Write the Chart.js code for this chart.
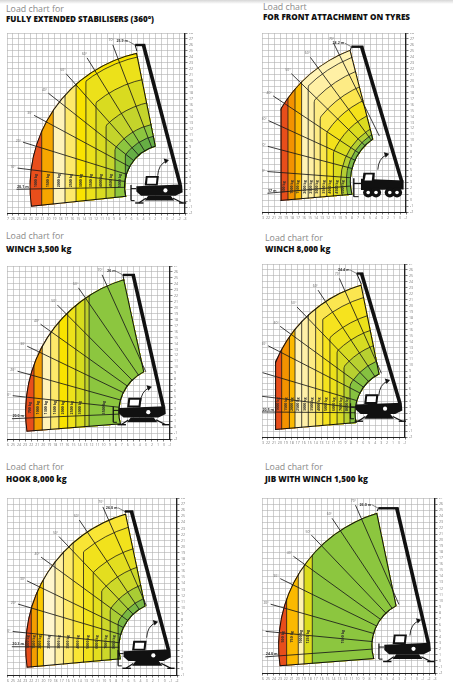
<!DOCTYPE html>
<html><head><meta charset="utf-8">
<script src="https://cdn.jsdelivr.net/npm/chart.js@4.4.1/dist/chart.umd.min.js"></script>
<style>
html,body{margin:0;padding:0;background:#fff;width:453px;height:696px;overflow:hidden;font-family:'Open Sans',sans-serif;position:relative}
.t1{position:absolute;font-size:8.8px;color:#8a8a8a;line-height:1;white-space:nowrap}
.t2{position:absolute;font-size:8.1px;font-weight:800;color:#111;line-height:1;white-space:nowrap}
canvas{position:absolute}
.topbar{position:absolute;left:0;top:0;width:453px;height:4px;background:linear-gradient(#d6d6d6,#fff)}
</style></head>
<body>
<div class="topbar"></div>
<div class="t1" style="left:6px;top:5px">Load chart for</div>
<div class="t2" style="left:6px;top:15px">FULLY EXTENDED STABILISERS (360°)</div>
<div class="t1" style="left:263px;top:3px">Load chart</div>
<div class="t2" style="left:263px;top:13px">FOR FRONT ATTACHMENT ON TYRES</div>
<div class="t1" style="left:6px;top:232px">Load chart for</div>
<div class="t2" style="left:6px;top:245px">WINCH 3,500 kg</div>
<div class="t1" style="left:265px;top:234px">Load chart for</div>
<div class="t2" style="left:265px;top:245px">WINCH 8,000 kg</div>
<div class="t1" style="left:6px;top:463px">Load chart for</div>
<div class="t2" style="left:6px;top:475px">HOOK 8,000 kg</div>
<div class="t1" style="left:265px;top:463px">Load chart for</div>
<div class="t2" style="left:265px;top:475px">JIB WITH WINCH 1,500 kg</div>
<script>
// ---------- Panel 1 : fully extended stabilisers ----------
const p1Loads   = ['1000 kg','1500 kg','2000 kg','2500 kg','3000 kg','3500 kg','4000 kg','4500 kg','5000 kg'];
const p1CurveX  = [5.85, 7.8, 9.78, 11.64, 13.3, 15.0, 16.7, 18.2, 19.95];
const p1CurveR  = [99, 99, 99, 99, 22.4, 18.5, 14.5, 10.8, 8.8];
const p1Rays    = [181, 173, 163, 152, 142, 132, 122, 111];
const p1RayText = ['20.1 m','10°','20°','30°','40°','50°','60°','70°'];
const p1Outline = [26.9, 4.4, 23.1, 7.0, 102.5, 188.5, 105, 194, 0];
const p1Boom    = [29.2, 4.67, 23.0, 28.0, 21.6];
const p1Tip     = '25.9 m';
// ---------- Panel 2 : front attachment on tyres ----------
const p2Loads   = ['500 kg','1000 kg','1500 kg','2000 kg','2500 kg','3000 kg','3500 kg','4000 kg','4500 kg','5000 kg'];
const p2CurveX  = [4.33, 5.5, 6.6, 7.7, 8.7, 9.7, 10.8, 11.9, 13.0, 14.1];
const p2CurveR  = [99, 99, 99, 22.3, 19.9, 17.3, 14.95, 12.4, 10.2, 9.3];
const p2Rays    = [185, 175.7, 165.2, 155.3, 146.2, 135.5, 126.2, 116.1];
const p2RayText = ['17 m','10°','20°','30°','40°','50°','60°','70°'];
const p2Outline = [23.3, 5.1, 23.6, 8.5, 111.3, 188.5, 124, 195, 3.1];
const p2Boom    = [23.3, 5.07, 16.6, 27.7, 14.9];
const p2Tip     = '24.2 m';
// ---------- Panel 3 : winch 3,500 kg ----------
const p3Loads   = ['700 kg','1000 kg','1300 kg','1600 kg','2000 kg','2500 kg','3000 kg',null,'3500 kg'];
const p3CurveX  = [4.47, 5.84, 7.23, 8.6, 10.05, 11.4, 12.9, 13.6];
const p3CurveR  = [99, 99, 99, 99, 99, 99, 99, 99];
const p3Rays    = [182.5, 173.7, 164.2, 154, 144.2, 134.5, 124.2, 114];
const p3RayText = ['20.0 m','10°','20°','30°','40°','50°','60°','70°'];
const p3Outline = [26, 4.5, 23.0, 7.4, 106.7, 188.1, 116.2, 195.8, 0];
const p3Boom    = [25.9, 5.4, 20.9, 27.5, 19.2];
const p3Tip     = '26 m';
// ---------- Panel 4 : winch 8,000 kg ----------
const p4Loads   = ['1000 kg','1500 kg','2000 kg','2500 kg','3000 kg','3500 kg','4000 kg','5000 kg','6000 kg','7000 kg','8000 kg'];
const p4CurveX  = [3.3, 4.6, 5.54, 6.66, 7.77, 9.0, 10.2, 11.4, 12.6, 13.76, 14.77];
const p4CurveR  = [99, 99, 99, 99, 99, 99, 20.3, 17.2, 14.7, 12.1, 9.5];
const p4Rays    = [179.5, 173, 163.5, 152.8, 143.9, 133.9, 123.4, 113.9];
const p4RayText = ['20.5 m','10°','20°','30°','40°','50°','60°','70°'];
const p4Outline = [23, 4, 22.5, 7.3, 106.3, 187.5, 116.6, 193, 2.2];
const p4Boom    = [23.15, 5.65, 16.7, 27.4, 15.9];
const p4Tip     = '24.4 m';
// ---------- Panel 5 : hook 8,000 kg ----------
const p5Loads   = ['1000 kg','1500 kg','2000 kg','2500 kg','3000 kg','3500 kg','4000 kg','5000 kg','6000 kg','7000 kg','8000 kg'];
const p5CurveX  = [4.0, 5.0, 6.0, 7.91, 9.3, 10.9, 12.6, 14.2, 15.6, 17.0, 18.3];
const p5CurveR  = [99, 99, 99, 99, 99, 99, 20.7, 17.1, 14.0, 11.0, 8.8];
const p5Rays    = [179.7, 174, 163.6, 154.3, 144, 133.8, 124, 113.9];
const p5RayText = ['20.3 m','10°','20°','30°','40°','50°','60°','70°'];
const p5Outline = [26, 4.5, 23.0, 7.5, 106.2, 188.3, 115.1, 194.8, 0];
const p5Boom    = [26.6, 4.1, 20.5, 26.8, 19.4];
const p5Tip     = '26.0 m';
// ---------- Panel 6 : jib with winch 1,500 kg ----------
const p6Loads   = ['500 kg','750 kg','1000 kg','1250 kg','1500 kg'];
const p6CurveX  = [4.13, 6.08, 7.04, 8.43];
const p6CurveR  = [99, 99, 99, 99];
const p6Rays    = [184.1, 174.6, 164.3, 154.1, 144.4, 134, 124, 113.9];
const p6RayText = ['24.0 m','10°','20°','30°','40°','50°','60°','70°'];
const p6Outline = [26, 4.5, 23.3, 7.5, 106.7, 188.4, 117.3, 197, 0];
const p6Boom    = [27.9, 4.9, 22.6, 27.3, 19.5];
const p6Tip     = '26.0 m';

// ---------- styles ----------
const p1Colors = ['#e84e1b','#f6a600','#fff3b8','#fde96a','#f9e300','#ece11a','#d9db20','#c4d42b','#8dc63f','#66ae44'];
const p2Colors = ['#e84e1b','#f39200','#fbb900','#fff3b5','#fff0a5','#fdeb85','#fbe64e','#f4e21a','#dcdc1f','#b5cf32','#7cb842'];
const p3Colors = ['#e84e1b','#f39c00','#fff3b8','#fde96a','#f9e300','#eee21a','#d6dc1e','#bfd22c','#8cc63f'];
const p4Colors = ['#e84e1b','#f39200','#fbb900','#fff3b8','#fff0a8','#fdeb85','#fbe650','#f6e31e','#ece01a','#d7db22','#b8d030','#86c240'];
const p5Colors = ['#e84e1b','#f39c00','#fbc900','#fff6cc','#fff0a0','#fde96a','#f9e535','#f1e21c','#e3de1f','#cdd829','#a9cc34','#7ab843'];
const p6Colors = ['#e84e1b','#fbb900','#fff3b0','#dcdc1c','#8cc63f'];

const PANELS = [
  {W:30,H:30,left:7,  top:33, gw:178,gh:180,loads:p1Loads,colors:p1Colors,curveX:p1CurveX,curveR:p1CurveR,rays:p1Rays,rayText:p1RayText,outline:p1Outline,boom:p1Boom,tip:p1Tip,labelY:5.4,arrow:[-0.8,3.1],tyres:false,ground:2},
  {W:24,H:30,left:262,top:33, gw:144,gh:179,loads:p2Loads,colors:p2Colors,curveX:p2CurveX,curveR:p2CurveR,rays:p2Rays,rayText:p2RayText,outline:p2Outline,boom:p2Boom,tip:p2Tip,labelY:4.2,arrow:[-3.3,3.3],tyres:true,ground:2},
  {W:27,H:29,left:7,  top:266,gw:163,gh:173,loads:p3Loads,colors:p3Colors,curveX:p3CurveX,curveR:p3CurveR,rays:p3Rays,rayText:p3RayText,outline:p3Outline,boom:p3Boom,tip:p3Tip,labelY:5.25,arrow:[-3.2,2.9],tyres:false,ground:2},
  {W:24,H:29,left:262,top:264,gw:143,gh:173,loads:p4Loads,colors:p4Colors,curveX:p4CurveX,curveR:p4CurveR,rays:p4Rays,rayText:p4RayText,outline:p4Outline,boom:p4Boom,tip:p4Tip,labelY:5.5,arrow:[-2.7,4.2],tyres:false,ground:2},
  {W:28,H:29,left:7,  top:498,gw:170,gh:177,loads:p5Loads,colors:p5Colors,curveX:p5CurveX,curveR:p5CurveR,rays:p5Rays,rayText:p5RayText,outline:p5Outline,boom:p5Boom,tip:p5Tip,labelY:5.4,arrow:[-2.3,2.9],tyres:false,ground:1},
  {W:29,H:29,left:262,top:498,gw:173,gh:175,loads:p6Loads,colors:p6Colors,curveX:p6CurveX,curveR:p6CurveR,rays:p6Rays,rayText:p6RayText,outline:p6Outline,boom:p6Boom,tip:p6Tip,labelY:6.0,arrow:[-0.5,3.0],tyres:false,ground:2}
];

const D = Math.PI / 180;
function geo(chart, P) {
  const xs = chart.scales.x, ys = chart.scales.y;
  return {
    X: v => xs.getPixelForValue(v), Y: v => ys.getPixelForValue(v),
    kx: xs.getPixelForValue(1) - xs.getPixelForValue(0),
    ky: ys.getPixelForValue(0) - ys.getPixelForValue(1),
    cx: xs.getPixelForValue(P.outline[0]), cy: ys.getPixelForValue(P.outline[1])
  };
}
function envelopePath(ctx, g, o) {
  ctx.beginPath();
  ctx.arc(g.cx, g.cy, o[2] * g.kx, -o[4] * D, -o[5] * D, true);
  ctx.arc(g.cx, g.cy, o[3] * g.kx, -o[7] * D, -o[6] * D, false);
  ctx.closePath();
}
function rayEnd(o, th) {
  let r = o[2];
  const c = Math.cos(th * D);
  if (c < 0 && o[8] > 0) r = Math.min(r, (o[0] - o[8]) / -c);
  return r;
}
function seg(data, color, w) {
  return {type:'scatter', data, showLine:true, borderColor:color, backgroundColor:color,
          borderWidth:w, pointRadius:0, clip:false, borderCapStyle:'butt'};
}
function drawMachine(ctx, g, P) {
  const b = P.boom, bx = g.X(b[0]), by = g.Y(b[1]);
  const U = (dx, dy) => [bx + dx * g.kx, by - dy * g.ky];
  const poly = (pts, fill) => {
    ctx.beginPath();
    pts.forEach((p, i) => { const q = U(p[0], p[1]); i ? ctx.lineTo(q[0], q[1]) : ctx.moveTo(q[0], q[1]); });
    ctx.closePath(); ctx.fillStyle = fill; ctx.fill();
  };
  const ln = (a, c, w) => { const p = U(a[0], a[1]), q = U(c[0], c[1]); ctx.lineWidth = w; ctx.beginPath(); ctx.moveTo(p[0], p[1]); ctx.lineTo(q[0], q[1]); ctx.stroke(); };
  ctx.strokeStyle = '#111';
  if (P.tyres) {
    poly([[-6.8,0.5],[0.3,0.2],[0.3,-1.3],[-6.8,-1.4]], '#111');
    poly([[-6.6,-0.2],[-4.6,-0.2],[-4.5,1.5],[-6.4,1.5]], '#111');
    poly([[-6.2,0.2],[-5.0,0.2],[-4.9,1.2],[-6.0,1.2]], '#fff');
    [-5.6,-4.3,-2.0,-0.8].forEach(x => {
      const c = U(x, -1.8);
      ctx.beginPath(); ctx.arc(c[0], c[1], 0.85 * g.kx, 0, 2 * Math.PI); ctx.fillStyle = '#111'; ctx.fill();
      ctx.beginPath(); ctx.arc(c[0], c[1], 0.3 * g.kx, 0, 2 * Math.PI); ctx.fillStyle = '#fff'; ctx.fill();
    });
    ln([-6.8,-0.3],[-8.0,-0.3],1.2); ln([-8.0,0.6],[-8.0,-2.5],1.4); ln([-8.0,-2.5],[-7.2,-2.5],1);
  } else {
    poly([[-7.4,-0.2],[0.3,0.1],[0.4,-1.2],[-0.8,-1.8],[-6.6,-1.8],[-7.4,-1.1]], '#111');
    poly([[-6.0,-0.1],[-3.8,-0.1],[-3.6,1.5],[-5.8,1.5]], '#111');
    poly([[-5.6,0.2],[-4.1,0.2],[-4.0,1.2],[-5.5,1.2]], '#fff');
    const h = U(-2.5, -0.9); ctx.beginPath(); ctx.arc(h[0], h[1], 0.35 * g.kx, 0, 2 * Math.PI); ctx.fillStyle = '#fff'; ctx.fill();
    poly([[-5.4,-1.8],[-1.6,-1.8],[-1.0,-2.6],[-6.0,-2.6]], '#111');
    ln([-5.8,-2.2],[-7.0,-3.0],1.2); ln([-1.2,-2.2],[0.4,-3.0],1.2);
    ln([-7.6,-3.0],[-6.2,-3.0],1.4); ln([-0.2,-3.0],[1.0,-3.0],1.4);
    ln([-7.4,-0.6],[-8.3,-0.6],1); ln([-8.3,0.0],[-8.3,-2.6],1.3); ln([-8.3,-2.6],[-7.7,-2.6],1);
  }
}
function drawArrow(ctx, g, P) {
  const o = P.outline, a = P.arrow, k = g.kx;
  const cx = g.X(o[0] + a[0]), cy = g.Y(o[1] + a[1]);
  ctx.strokeStyle = '#111'; ctx.lineWidth = 0.9;
  ctx.beginPath(); ctx.moveTo(cx - 0.7 * k, cy + 1.3 * k);
  ctx.quadraticCurveTo(cx - 0.6 * k, cy - 0.6 * k, cx + 0.8 * k, cy - 1.2 * k); ctx.stroke();
  ctx.beginPath(); ctx.moveTo(cx + 1.2 * k, cy - 1.35 * k); ctx.lineTo(cx + 0.3 * k, cy - 1.6 * k);
  ctx.lineTo(cx + 0.6 * k, cy - 0.7 * k); ctx.closePath(); ctx.fillStyle = '#111'; ctx.fill();
}

function makePlugin(P) {
  return {
    id: 'loadzones',
    beforeDatasetsDraw(chart) {
      const ctx = chart.ctx, g = geo(chart, P), o = P.outline, a = chart.chartArea;
      ctx.save();
      ctx.beginPath(); ctx.rect(a.left, a.top, a.width, a.height); ctx.clip();
      envelopePath(ctx, g, o); ctx.clip();
      ctx.beginPath(); ctx.rect(g.X(o[8]), -2000, 4000, 4000); ctx.clip();
      ctx.fillStyle = P.colors[0]; ctx.fillRect(a.left, a.top, a.width, a.height);
      P.curveX.forEach((x, i) => {
        ctx.save();
        ctx.beginPath(); ctx.rect(g.X(x), -2000, 4000, 4000); ctx.clip();
        ctx.beginPath(); ctx.arc(g.cx, g.cy, P.curveR[i] * g.kx, 0, 2 * Math.PI);
        ctx.fillStyle = P.colors[i + 1]; ctx.fill();
        ctx.restore();
      });
      ctx.strokeStyle = '#1a1a1a'; ctx.lineWidth = 0.8;
      P.curveX.forEach((x, i) => {
        const px = g.X(x), r = P.curveR[i] * g.kx;
        ctx.save(); ctx.beginPath(); ctx.arc(g.cx, g.cy, r, 0, 2 * Math.PI); ctx.clip();
        ctx.beginPath(); ctx.moveTo(px, -2000); ctx.lineTo(px, 2000); ctx.stroke(); ctx.restore();
        ctx.save(); ctx.beginPath(); ctx.rect(px, -2000, 4000, 4000); ctx.clip();
        ctx.beginPath(); ctx.arc(g.cx, g.cy, r, 0, 2 * Math.PI); ctx.stroke(); ctx.restore();
      });
      ctx.strokeStyle = '#111'; ctx.lineWidth = 2;
      envelopePath(ctx, g, o); ctx.stroke();
      ctx.beginPath(); ctx.moveTo(g.X(o[8]), -2000); ctx.lineTo(g.X(o[8]), 2000); ctx.stroke();
      ctx.restore();
    },
    afterDatasetsDraw(chart) {
      const ctx = chart.ctx, g = geo(chart, P), o = P.outline;
      ctx.save();
      ctx.fillStyle = '#2e2e2e'; ctx.font = 'bold 3.6px "Open Sans"';
      ctx.textAlign = 'center'; ctx.textBaseline = 'middle';
      const ly = P.labelY, dy = ly - o[1];
      P.loads.forEach((t, i) => {
        if (!t) return;
        const l = i === 0 ? Math.max(o[8], o[0] - Math.sqrt(o[2] * o[2] - dy * dy)) : P.curveX[i - 1];
        const r = i < P.curveX.length ? P.curveX[i] : o[0] - Math.sqrt(Math.max(0, o[3] * o[3] - dy * dy));
        ctx.save(); ctx.translate(g.X((l + r) / 2), g.Y(ly)); ctx.rotate(-Math.PI / 2);
        ctx.fillText(t, 0, 0); ctx.restore();
      });
      P.rays.forEach((th, i) => {
        const c = Math.cos(th * D), s = Math.sin(th * D), r1 = rayEnd(o, th) + 2.2;
        const ex = o[0] + r1 * c, ey = o[1] + r1 * s;
        if (i === 0) {
          ctx.font = 'bold 3.6px "Open Sans"'; ctx.fillStyle = '#333'; ctx.textAlign = 'left'; ctx.textBaseline = 'bottom';
          ctx.fillText(P.rayText[i], g.X(ex) + 0.5, g.Y(ey) - 0.6);
        } else {
          ctx.font = '3.4px "Open Sans"'; ctx.fillStyle = '#666'; ctx.textAlign = 'center'; ctx.textBaseline = 'middle';
          ctx.fillText(P.rayText[i], g.X(ex + 0.8 * c), g.Y(ey + 0.8 * s));
        }
      });
      const b = P.boom;
      ctx.font = 'bold 3.6px "Open Sans"'; ctx.fillStyle = '#333'; ctx.textAlign = 'right'; ctx.textBaseline = 'middle';
      const tx = g.X(b[4] - 1.2), ty = g.Y(b[3] + 0.6);
      ctx.fillText(P.tip, tx, ty);
      ctx.strokeStyle = '#333'; ctx.lineWidth = 0.6;
      ctx.beginPath(); ctx.moveTo(tx + 0.5, ty); ctx.lineTo(g.X(b[4]), g.Y(b[3])); ctx.stroke();
      drawMachine(ctx, g, P);
      drawArrow(ctx, g, P);
      ctx.restore();
    }
  };
}

function build(P) {
  const cv = document.createElement('canvas');
  const w = P.gw + 12, h = P.gh + 12;
  cv.width = w; cv.height = h;
  cv.style.left = P.left + 'px'; cv.style.top = P.top + 'px';
  cv.style.width = w + 'px'; cv.style.height = h + 'px';
  document.body.appendChild(cv);
  const o = P.outline, b = P.boom;
  const datasets = P.rays.map(th => {
    const c = Math.cos(th * D), s = Math.sin(th * D), r1 = rayEnd(o, th) + 2.2;
    return seg([{x: o[0] + o[3] * c, y: o[1] + o[3] * s}, {x: o[0] + r1 * c, y: o[1] + r1 * s}], '#1a1a1a', 0.85);
  });
  const tipX = o[0] + o[2] * Math.cos(o[4] * D), tipY = o[1] + o[2] * Math.sin(o[4] * D);
  datasets.push(seg([{x: b[4], y: b[3]}, {x: tipX, y: tipY}], '#111', 1));
  datasets.push(seg([{x: b[0], y: b[1]}, {x: b[2], y: b[3]}], '#111', 3.6));
  datasets.push(seg([{x: b[4], y: b[3]}, {x: b[2] + 0.3, y: b[3]}], '#111', 2.4));
  const x0 = Math.round(o[0]);
  new Chart(cv, {
    type: 'scatter',
    data: {datasets},
    options: {
      responsive: false, animation: false, maintainAspectRatio: false,
      layout: {padding: 0},
      plugins: {legend: {display: false}, tooltip: {enabled: false}, title: {display: false}},
      scales: {
        x: {
          type: 'linear', min: 0, max: P.W, position: 'bottom',
          ticks: {stepSize: 1, autoSkip: false, maxRotation: 0, padding: 1.5, font: {size: 3.5, family: 'Open Sans'}, color: '#777',
                  callback: v => String(x0 - v)},
          grid: {color: '#b0b0b0', lineWidth: 0.6, tickLength: 2.5, tickColor: '#222'},
          border: {display: true, color: '#222', width: 1},
          afterFit: s => { s.height = 12; s.paddingLeft = 0; s.paddingRight = 0; }
        },
        y: {
          type: 'linear', min: 0, max: P.H, position: 'right',
          ticks: {stepSize: 1, autoSkip: false, padding: 1.5, font: {size: 3.5, family: 'Open Sans'}, color: '#777',
                  callback: v => String(v - P.ground)},
          grid: {color: '#b0b0b0', lineWidth: 0.6, tickLength: 2.5, tickColor: '#222'},
          border: {display: true, color: '#222', width: 1.2},
          afterFit: s => { s.width = 12; s.paddingTop = 0; s.paddingBottom = 0; }
        }
      }
    },
    plugins: [makePlugin(P)]
  });
}
PANELS.forEach(build);
</script>
</body></html>
